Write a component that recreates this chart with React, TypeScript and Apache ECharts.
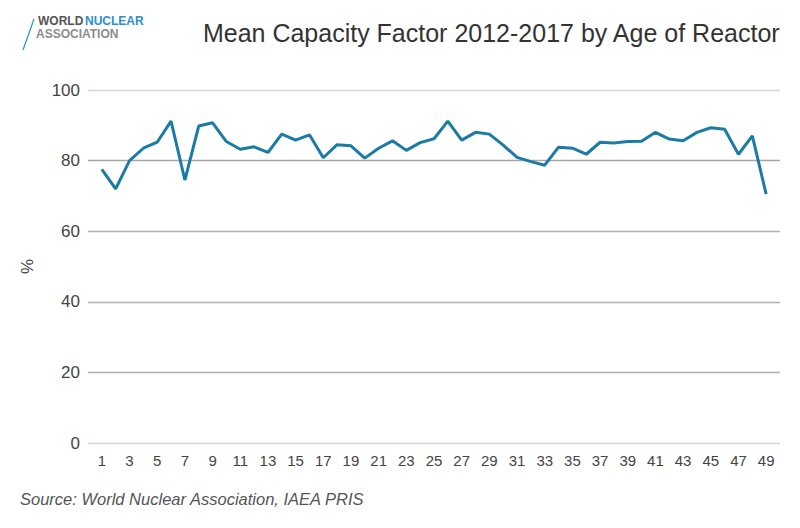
import React, { useEffect, useRef } from "react";
import * as echarts from "echarts";

const ages = [
  1, 2, 3, 4, 5, 6, 7, 8, 9, 10, 11, 12, 13, 14, 15, 16, 17, 18, 19, 20, 21, 22, 23, 24, 25,
  26, 27, 28, 29, 30, 31, 32, 33, 34, 35, 36, 37, 38, 39, 40, 41, 42, 43, 44, 45, 46, 47, 48, 49,
];
const capacityFactor = [
  77.5, 72.0, 80.0, 83.5, 85.2, 91.2, 74.5, 89.8, 90.7, 85.4, 83.2, 83.9, 82.3, 87.5, 85.8,
  87.3, 80.8, 84.5, 84.2, 80.7, 83.5, 85.6, 82.9, 85.1, 86.2, 91.2, 85.8, 88.0, 87.5, 84.4,
  80.9, 79.7, 78.7, 83.8, 83.5, 81.8, 85.2, 85.0, 85.4, 85.5, 88.0, 86.1, 85.6, 88.0, 89.3,
  88.9, 81.8, 87.0, 70.5,
];
const yTicks = [0, 20, 40, 60, 80, 100];

const FONT = "'Liberation Sans', 'DejaVu Sans', Arial, sans-serif";

export default function App() {
  const ref = useRef<HTMLDivElement>(null);
  useEffect(() => {
    if (!ref.current) return;
    const chart = echarts.init(ref.current, undefined, { renderer: "svg" });
    const data = ages.map((a, i) => [a, capacityFactor[i]]);
    chart.setOption({
      animation: false,
      backgroundColor: "#ffffff",
      title: {
        text: "Mean Capacity Factor 2012-2017 by Age of Reactor",
        right: 14,
        top: 15,
        textStyle: {
          fontFamily: FONT,
          fontSize: 25,
          fontWeight: "normal",
          color: "#333333",
        },
      },
      grid: { left: 88, right: 20, top: 90, bottom: 85 },
      xAxis: {
        type: "value",
        min: 0,
        max: 50,
        interval: 1,
        axisLine: { show: false },
        axisTick: { show: false },
        splitLine: { show: false },
        axisLabel: {
          margin: 10,
          fontFamily: FONT,
          fontSize: 15,
          color: "#444444",
          showMinLabel: true,
          showMaxLabel: true,
          formatter: (v: number) => (v % 2 === 1 ? String(v) : ""),
        },
      },
      yAxis: {
        type: "value",
        min: yTicks[0],
        max: yTicks[yTicks.length - 1],
        interval: 20,
        name: "%",
        nameLocation: "middle",
        nameGap: 52,
        nameTextStyle: { fontFamily: FONT, fontSize: 17, color: "#444444" },
        axisLine: { show: false },
        axisTick: { show: false },
        axisLabel: {
          margin: 8,
          fontFamily: FONT,
          fontSize: 17,
          color: "#444444",
        },
        splitLine: {
          lineStyle: {
            color: ["#d6d6d6", "#b0b0b0", "#b0b0b0", "#b0b0b0", "#a6a6a6", "#d6d6d6"],
            width: 1.3,
          },
        },
      },
      series: [
        {
          type: "line",
          data,
          symbol: "none",
          lineStyle: { color: "#1a7ca6", width: 3 },
        },
      ],
      graphic: [
        {
          type: "line",
          shape: { x1: 34, y1: 19, x2: 23, y2: 50 },
          style: { stroke: "#2b8fd0", lineWidth: 1.2 },
        },
        {
          type: "text",
          x: 38,
          y: 15,
          style: {
            text: "WORLD",
            fontFamily: FONT,
            fontSize: 12,
            fontWeight: "bold",
            fill: "#555555",
          },
        },
        {
          type: "text",
          x: 85,
          y: 15,
          style: {
            text: "NUCLEAR",
            fontFamily: FONT,
            fontSize: 12,
            fontWeight: "bold",
            fill: "#2b8fd0",
          },
        },
        {
          type: "text",
          x: 36,
          y: 28,
          style: {
            text: "ASSOCIATION",
            fontFamily: FONT,
            fontSize: 12,
            fontWeight: "bold",
            fill: "#8c8c8c",
          },
        },
        {
          type: "text",
          x: 20,
          y: 490,
          style: {
            text: "Source: World Nuclear Association, IAEA PRIS",
            fontFamily: FONT,
            fontSize: 16.5,
            fontStyle: "italic",
            fill: "#555555",
          },
        },
      ],
    });
    return () => chart.dispose();
  }, []);
  return <div ref={ref} style={{ width: 800, height: 528, position: "absolute", left: 0, top: 0 }} />;
}
